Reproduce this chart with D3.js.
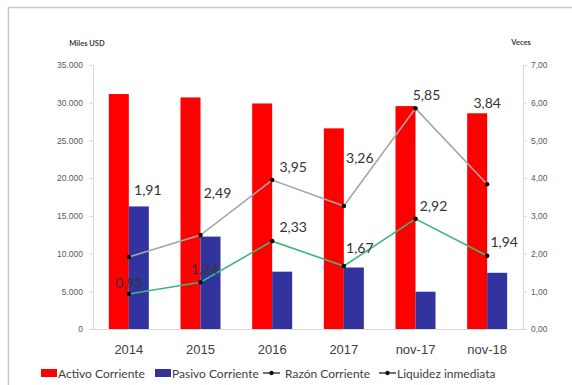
<!DOCTYPE html>
<html>
<head>
<meta charset="utf-8">
<script src="https://cdn.jsdelivr.net/npm/d3@7"></script>
<style>
  html, body { margin: 0; padding: 0; background: #fff; }
  svg { display: block; font-family: Lato, "Open Sans", sans-serif; }
</style>
</head>
<body>
<svg id="chart" width="572" height="385"></svg>
<script>
// Categories and series
const categories = ["2014", "2015", "2016", "2017", "nov-17", "nov-18"];
const activoCorriente = [31150, 30700, 29900, 26600, 29550, 28600];
const pasivoCorriente = [16250, 12250, 7600, 8150, 4950, 7450];
const razonCorriente = [1.91, 2.49, 3.95, 3.26, 5.85, 3.84];
const liquidezInmediata = [0.93, 1.24, 2.33, 1.67, 2.92, 1.94];
const leftTicks = [0, 5000, 10000, 15000, 20000, 25000, 30000, 35000];
const rightTicks = [0, 1, 2, 3, 4, 5, 6, 7];

// Label offsets (px) from each point, for readability
const razonLabelOffset = [[19, -67], [17, -42], [21, -13], [16, -48], [11, -13], [0, -81]];
const liquidezLabelOffset = [[0, -11], [4, -13], [21, -14], [16, -18], [18, -13], [17, -14]];

const svg = d3.select("#chart");
const locale = d3.formatLocale({ decimal: ",", thousands: ".", grouping: [3] });
const fmtThousands = locale.format(",.0f");
const fmtDec = locale.format(".2f");

// Outer frame
svg.append("rect").attr("x", 8.5).attr("y", 7.5).attr("width", 600).attr("height", 400)
  .attr("fill", "#fff").attr("stroke", "#c8c8c8").attr("stroke-width", 1.5);

const plotLeft = 93, plotRight = 523, plotTop = 65, plotBottom = 329;

const x = d3.scaleBand().domain(categories).range([plotLeft, plotRight]).padding(0);
const bw = x.bandwidth();
const sub = d3.scaleBand().domain(["a", "p"]).range([bw / 2 - 20, bw / 2 + 20]).padding(0);
const yL = d3.scaleLinear().domain([0, 35000]).range([plotBottom, plotTop]);
const yR = d3.scaleLinear().domain([0, 7]).range([plotBottom, plotTop]);

// Bars
const g = svg.append("g");
g.selectAll("rect.act").data(activoCorriente).join("rect").attr("class", "act")
  .attr("x", (d, i) => x(categories[i]) + sub("a"))
  .attr("y", d => yL(d)).attr("width", sub.bandwidth()).attr("height", d => plotBottom - yL(d))
  .attr("fill", "#ff0000");
g.selectAll("rect.pas").data(pasivoCorriente).join("rect").attr("class", "pas")
  .attr("x", (d, i) => x(categories[i]) + sub("p"))
  .attr("y", d => yL(d)).attr("width", sub.bandwidth()).attr("height", d => plotBottom - yL(d))
  .attr("fill", "#3333a0");

// Axes
const axL = svg.append("g").attr("transform", `translate(${plotLeft},0)`)
  .call(d3.axisLeft(yL).tickValues(leftTicks).tickFormat(fmtThousands).tickSize(4).tickPadding(6));
const axR = svg.append("g").attr("transform", `translate(${plotRight},0)`)
  .call(d3.axisRight(yR).tickValues(rightTicks).tickFormat(fmtDec).tickSize(4).tickPadding(4));
const axB = svg.append("g").attr("transform", `translate(0,${plotBottom})`)
  .call(d3.axisBottom(x).tickSize(0).tickPadding(16));
[axL, axR, axB].forEach(a => {
  a.select(".domain").attr("stroke", "#d9d9d9");
  a.selectAll(".tick line").attr("stroke", "#d9d9d9");
});
axL.selectAll("text").attr("font-size", 8.5).attr("fill", "#595959");
axR.selectAll("text").attr("font-size", 8.5).attr("fill", "#595959");
axB.selectAll("text").attr("font-size", 13).attr("fill", "#404040");

// Axis titles
svg.append("text").attr("x", 87).attr("y", 46).attr("text-anchor", "middle")
  .attr("font-size", 7.5).attr("font-weight", "bold").attr("fill", "#404040").text("Miles USD");
svg.append("text").attr("x", 521).attr("y", 45).attr("text-anchor", "middle")
  .attr("font-size", 7.5).attr("font-weight", "bold").attr("fill", "#404040").text("Veces");

// Lines
const cx = i => x(categories[i]) + bw / 2;
function drawLine(values, color, offsets) {
  const line = d3.line().x((d, i) => cx(i)).y(d => yR(d));
  svg.append("path").datum(values).attr("d", line).attr("fill", "none")
    .attr("stroke", color).attr("stroke-width", 1.6);
  svg.append("g").selectAll("circle").data(values).join("circle")
    .attr("cx", (d, i) => cx(i)).attr("cy", d => yR(d)).attr("r", 2.3).attr("fill", "#111");
  svg.append("g").selectAll("text").data(values).join("text")
    .attr("x", (d, i) => cx(i) + offsets[i][0])
    .attr("y", (d, i) => yR(d) + offsets[i][1] + 5)
    .attr("text-anchor", "middle").attr("font-size", 14).attr("fill", "#333")
    .text(d => fmtDec(d));
}
drawLine(razonCorriente, "#a6a6a6", razonLabelOffset);
drawLine(liquidezInmediata, "#3cb878", liquidezLabelOffset);

// Legend
const lg = svg.append("g").attr("font-size", 12).attr("fill", "#404040");
const ly = 373;
lg.append("rect").attr("x", 41).attr("y", ly - 4).attr("width", 16).attr("height", 8).attr("fill", "#ff0000");
lg.append("text").attr("x", 58).attr("y", ly + 4.5).text("Activo Corriente");
lg.append("rect").attr("x", 155).attr("y", ly - 4).attr("width", 16).attr("height", 8).attr("fill", "#3333a0");
lg.append("text").attr("x", 172).attr("y", ly + 4.5).text("Pasivo Corriente");
[[263, 285, "Razón Corriente"], [379, 397, "Liquidez inmediata"]].forEach(([lx, tx, label]) => {
  lg.append("line").attr("x1", lx).attr("x2", lx + 17).attr("y1", ly).attr("y2", ly)
    .attr("stroke", "#222").attr("stroke-width", 1.3);
  lg.append("circle").attr("cx", lx + 8.5).attr("cy", ly).attr("r", 2.2).attr("fill", "#111");
  lg.append("text").attr("x", tx).attr("y", ly + 4.5).text(label);
});
</script>
</body>
</html>
